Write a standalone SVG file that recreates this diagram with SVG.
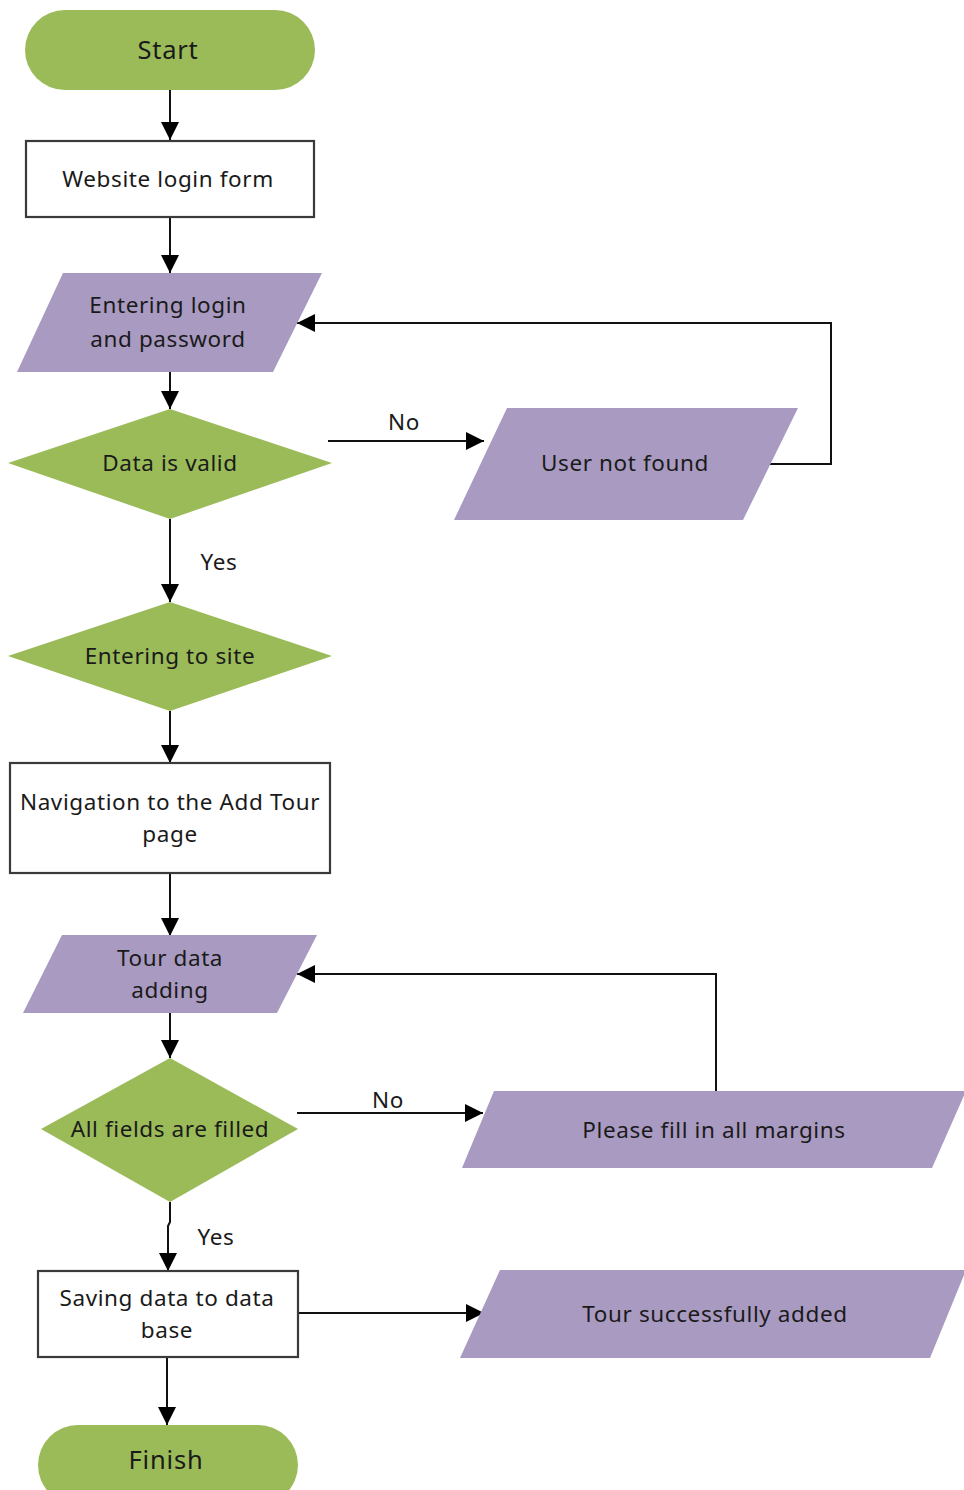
<svg xmlns="http://www.w3.org/2000/svg" width="964" height="1490" viewBox="0 0 964 1490">
  <style>
    .green { fill: #9BBB59; }
    .purple { fill: #A99AC1; }
    .box { fill: #ffffff; stroke: #3a3a3a; stroke-width: 2.2; }
    .lbl { font-family: "Noto Sans", "Open Sans", sans-serif; font-size: 22.5px; letter-spacing: 0.6px; fill: #1a1a1a; text-anchor: middle; }
    .big { font-size: 25.5px; letter-spacing: 0.8px; }
    .edge { fill: none; stroke: #111111; stroke-width: 2; }
  </style>
  <defs>
    <marker id="arrow" viewBox="0 0 18 18" refX="18" refY="9" markerWidth="18" markerHeight="18" markerUnits="userSpaceOnUse" orient="auto">
      <path d="M0,0 L18,9 L0,18 Z" fill="#000000"/>
    </marker>
  </defs>
  <rect width="964" height="1490" fill="#ffffff"/>

  <!-- connectors -->
  <g id="connectors">
    <path class="edge" d="M170,90 V140" marker-end="url(#arrow)"/>
    <path class="edge" d="M170,217 V273" marker-end="url(#arrow)"/>
    <path class="edge" d="M170,372 V409" marker-end="url(#arrow)"/>
    <path class="edge" d="M328,441 H484" marker-end="url(#arrow)"/>
    <path class="edge" d="M768,464 H831 V323 H297" marker-end="url(#arrow)"/>
    <path class="edge" d="M170,519 V602" marker-end="url(#arrow)"/>
    <path class="edge" d="M170,711 V763" marker-end="url(#arrow)"/>
    <path class="edge" d="M170,873 V936" marker-end="url(#arrow)"/>
    <path class="edge" d="M170,1013 V1058" marker-end="url(#arrow)"/>
    <path class="edge" d="M297,1113 H483" marker-end="url(#arrow)"/>
    <path class="edge" d="M716,1091 V974 H297" marker-end="url(#arrow)"/>
    <path class="edge" d="M170,1202 V1222 L168,1226 V1271" marker-end="url(#arrow)"/>
    <path class="edge" d="M298,1313 H484" marker-end="url(#arrow)"/>
    <path class="edge" d="M167,1357 V1425" marker-end="url(#arrow)"/>
    <text class="lbl" x="404" y="430">No</text>
    <text class="lbl" x="219" y="570">Yes</text>
    <text class="lbl" x="388" y="1108">No</text>
    <text class="lbl" x="216" y="1245">Yes</text>
  </g>

  <g id="start">
    <rect class="green" x="25" y="10" width="290" height="80" rx="40" ry="40"/>
    <text class="lbl big" x="168" y="59">Start</text>
  </g>

  <g id="login-form">
    <rect class="box" x="26" y="141" width="288" height="76"/>
    <text class="lbl" x="168" y="187">Website login form</text>
  </g>

  <g id="enter-credentials">
    <polygon class="purple" points="63,273 322,273 273,372 17,372"/>
    <text class="lbl" x="168" y="313">Entering login</text>
    <text class="lbl" x="168" y="347">and password</text>
  </g>

  <g id="data-valid">
    <polygon class="green" points="8,463 170,409 332,463 170,519"/>
    <text class="lbl" x="170" y="471">Data is valid</text>
  </g>

  <g id="user-not-found">
    <polygon class="purple" points="507,408 798,408 743,520 454,520"/>
    <text class="lbl" x="625" y="471">User not found</text>
  </g>

  <g id="enter-site">
    <polygon class="green" points="8,656 170,602 332,656 170,711"/>
    <text class="lbl" x="170" y="664">Entering to site</text>
  </g>

  <g id="navigation">
    <rect class="box" x="10" y="763" width="320" height="110"/>
    <text class="lbl" x="170" y="810">Navigation to the Add Tour</text>
    <text class="lbl" x="170" y="842">page</text>
  </g>

  <g id="tour-data">
    <polygon class="purple" points="62,935 317,935 277,1013 23,1013"/>
    <text class="lbl" x="170" y="966">Tour data</text>
    <text class="lbl" x="170" y="998">adding</text>
  </g>

  <g id="fields-filled">
    <polygon class="green" points="41,1129 170,1058 298,1129 170,1202"/>
    <text class="lbl" x="170" y="1137">All fields are filled</text>
  </g>

  <g id="fill-margins">
    <polygon class="purple" points="494,1091 966,1091 932,1168 462,1168"/>
    <text class="lbl" x="714" y="1138">Please fill in all margins</text>
  </g>

  <g id="saving">
    <rect class="box" x="38" y="1271" width="260" height="86"/>
    <text class="lbl" x="167" y="1306">Saving data to data</text>
    <text class="lbl" x="167" y="1338">base</text>
  </g>

  <g id="tour-added">
    <polygon class="purple" points="500,1270 966,1270 930,1358 460,1358"/>
    <text class="lbl" x="715" y="1322">Tour successfully added</text>
  </g>

  <g id="finish">
    <rect class="green" x="38" y="1425" width="260" height="80" rx="40" ry="40"/>
    <text class="lbl big" x="166" y="1469">Finish</text>
  </g>
</svg>
